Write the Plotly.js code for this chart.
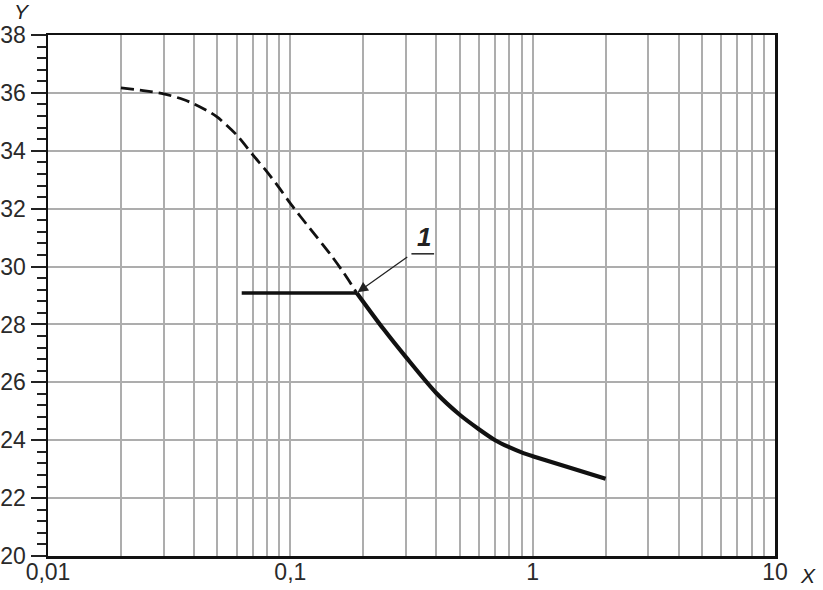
<!DOCTYPE html>
<html>
<head>
<meta charset="utf-8">
<script src="https://cdn.plot.ly/plotly-3.0.1.min.js"></script>
<style>html,body{margin:0;padding:0;background:#fff;}#chart{width:823px;height:590px;}</style>
</head>
<body>
<div id="chart"></div>
<script>
// Dashed (extrapolated) part of the curve
const dashX = [0.02, 0.0247, 0.03, 0.0362, 0.04, 0.0466, 0.05, 0.06, 0.07, 0.08, 0.09, 0.1, 0.1206, 0.1458, 0.1655, 0.188];
const dashY = [36.17, 36.08, 35.97, 35.77, 35.62, 35.33, 35.16, 34.55, 33.86, 33.28, 32.72, 32.18, 31.31, 30.44, 29.80, 29.09];
// Solid (measured) part of the curve
const solidX = [0.188, 0.242, 0.3, 0.4, 0.5, 0.6, 0.7, 0.8, 0.9, 1.0, 1.383, 2.0];
const solidY = [29.09, 27.85, 26.87, 25.63, 24.88, 24.38, 24.0, 23.76, 23.58, 23.45, 23.08, 22.67];
// Horizontal plateau line
const flatX = [0.063, 0.188];
const flatY = [29.09, 29.09];
// Marker "1" position
const markX = 0.188, markY = 29.09;
// Axis ticks
const xTickVals = [0.01,0.02,0.03,0.04,0.05,0.06,0.07,0.08,0.09,0.1,0.2,0.3,0.4,0.5,0.6,0.7,0.8,0.9,1,2,3,4,5,6,7,8,9,10];
const xTickText = xTickVals.map(v => v === 0.01 ? '0,01' : v === 0.1 ? '0,1' : v === 1 ? '1' : v === 10 ? '10' : '');
const yTickVals = [20,22,24,26,28,30,32,34,36,38];

const fam = 'Liberation Sans, Arial, sans-serif';
const font = {family: fam, size: 23, color: '#2a2a2a'};

const traces = [
  {x: dashX, y: dashY, mode: 'lines', line: {color: '#111', width: 2.8, dash: '13px,6px', shape: 'spline', smoothing: 0.8}, hoverinfo: 'none'},
  {x: solidX, y: solidY, mode: 'lines', line: {color: '#111', width: 4.2, shape: 'spline', smoothing: 0.8}, hoverinfo: 'none'},
  {x: flatX, y: flatY, mode: 'lines', line: {color: '#111', width: 3.5}, hoverinfo: 'none'}
];

const layout = {
  width: 823, height: 590,
  margin: {l: 48, r: 48, t: 35, b: 34},
  paper_bgcolor: '#fff', plot_bgcolor: '#fff',
  showlegend: false,
  font: font,
  xaxis: {
    type: 'log', range: [-2, 1],
    tickvals: xTickVals, ticktext: xTickText,
    ticks: '', showgrid: true, gridcolor: '#adadad', gridwidth: 2,
    showline: true, linecolor: '#111', linewidth: 2.5, mirror: true,
    zeroline: false, tickfont: font, ticklabelstandoff: -6
  },
  yaxis: {
    range: [20, 38], tickvals: yTickVals,
    ticks: 'outside', ticklen: 15, tickwidth: 2, tickcolor: '#222',
    showgrid: true, gridcolor: '#adadad', gridwidth: 2,
    showline: true, linecolor: '#111', linewidth: 2.5, mirror: true,
    zeroline: false, tickfont: font,
    minor: {dtick: 0.4, ticks: 'outside', ticklen: 9, tickwidth: 2, tickcolor: '#222', showgrid: false}
  },
  shapes: [
    {type: 'line', xref: 'x', yref: 'y', x0: 0.316, x1: 0.392, y0: 30.44, y1: 30.44, line: {color: '#222', width: 1.5}}
  ],
  annotations: [
    {x: Math.log10(markX), y: markY, xref: 'x', yref: 'y', text: '', showarrow: true,
     arrowhead: 2, arrowsize: 1.6, arrowwidth: 1.3, arrowcolor: '#222', ax: 52, ay: -37, standoff: 1},
    {x: Math.log10(0.355), y: 30.44, xref: 'x', yref: 'y', text: '<b><i>1</i></b>', showarrow: false,
     yanchor: 'bottom', xanchor: 'center', font: {family: fam, size: 26, color: '#222'}},
    {x: 0, y: 1, xref: 'paper', yref: 'paper', xanchor: 'center', yanchor: 'middle', xshift: -26, yshift: 24,
     text: '<i>Y</i>', showarrow: false, font: {family: fam, size: 21, color: '#222'}},
    {x: 1, y: 0, xref: 'paper', yref: 'paper', xanchor: 'center', yanchor: 'middle', xshift: 33, yshift: -19,
     text: '<i>X</i>', showarrow: false, font: {family: fam, size: 21, color: '#222'}}
  ]
};

Plotly.newPlot('chart', traces, layout, {displayModeBar: false, staticPlot: true});
</script>
</body>
</html>
